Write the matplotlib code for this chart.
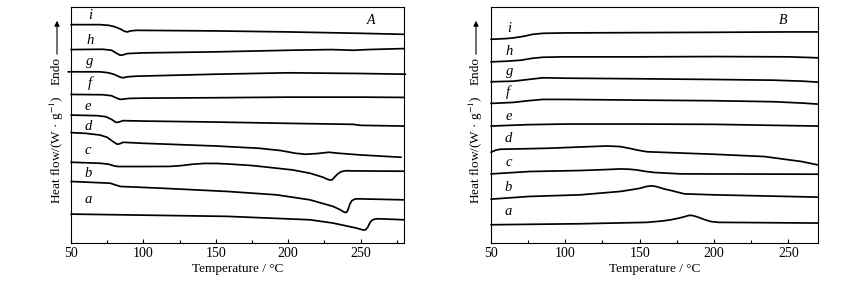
import numpy as np
import matplotlib
matplotlib.use('Agg')
import matplotlib.pyplot as plt
from matplotlib.ticker import MultipleLocator

plt.rcParams['font.family'] = ['Liberation Serif', 'DejaVu Serif']
plt.rcParams['mathtext.fontset'] = 'stix'

# ---- panel A : (temperature, heat flow offset) ----
A_i_t = [50, 70, 76, 80, 84, 87, 89, 91, 95, 150, 200, 250, 280]
A_i_y = [219, 219, 218.3, 217, 214.7, 212.3, 211.7, 212.7, 213.3, 212.7, 211.7, 210.3, 209.3]
A_h_t = [50, 72, 78, 81, 84, 86, 89, 100, 150, 200, 230, 245, 255, 280]
A_h_y = [194, 194.3, 193.3, 190.7, 188.3, 188.7, 190, 190.7, 191.7, 193.3, 194, 193.3, 194, 195]
A_g_t = [48, 70, 76, 80, 84, 86, 89, 95, 150, 200, 250, 281]
A_g_y = [171.7, 171.7, 170.7, 169, 166.3, 165.7, 166.7, 167.3, 169.3, 170.7, 170, 169.3]
A_f_t = [50, 72, 78, 82, 84, 86, 90, 100, 150, 200, 250, 280]
A_f_y = [149, 148.7, 147.7, 145, 144, 144.3, 145, 145.3, 145.7, 146.3, 146.3, 146]
A_e_t = [50, 68, 74, 78, 81, 83, 86, 100, 150, 200, 245, 250, 280]
A_e_y = [128.3, 127.7, 126.7, 124, 121, 121.3, 122.7, 122.3, 121.3, 120, 119, 118, 117.3]
A_d_t = [50, 60, 70, 75, 79, 82, 84, 86, 100, 150, 180, 195, 205, 212, 220, 228, 235, 250, 278]
A_d_y = [110.7, 110, 108.3, 106, 101.7, 99, 99.7, 101, 100, 97.3, 95, 92.7, 90, 89, 89.7, 91, 90, 88.3, 86]
A_c_t = [50, 70, 76, 80, 82.5, 100, 118, 126, 134, 142, 150, 158, 175, 203, 215, 224, 227, 229,
         230.5, 232, 234, 236.5, 240, 245, 280]
A_c_y = [81, 80, 79, 77.3, 76.7, 76.7, 76.8, 77.6, 79, 79.8, 79.8, 79.3, 77.7, 73.3, 70, 66, 64,
         63.2, 63.5, 66, 69, 71.5, 72.5, 72.3, 72]
A_b_t = [50, 77, 84, 112, 158, 192, 215, 231, 236, 238, 239.5, 240.5, 241.5, 242.6, 244, 246,
         248, 280]
A_b_y = [61.7, 60, 56.7, 55, 51.7, 48.3, 43.3, 36.7, 33.3, 31.5, 30.5, 31, 34, 39, 42.5, 44,
         44.3, 43.3]
A_a_t = [50, 158, 215, 231, 247, 250, 252, 253.5, 255, 256.5, 258, 260, 262, 280]
A_a_y = [29, 26.7, 23.3, 20, 15, 13.8, 13, 13.3, 16, 20.5, 23, 24, 24.3, 23.3]

# ---- panel B ----
B_i_t = [50, 60, 65, 72, 78, 85, 100, 150, 200, 250, 270]
B_i_y = [204.3, 205, 205.7, 207.3, 209.3, 210.3, 210.7, 211, 211.3, 211.7, 211.7]
B_h_t = [50, 60, 70, 78, 85, 100, 150, 200, 250, 265, 270]
B_h_y = [181.7, 182.3, 183.3, 185.3, 186.3, 186.7, 186.7, 187, 186.7, 186, 185.7]
B_g_t = [50, 65, 75, 85, 100, 150, 200, 240, 260, 270]
B_g_y = [161.7, 162.3, 164, 165.7, 165.3, 164.7, 164, 163.3, 162.3, 161.3]
B_f_t = [50, 65, 75, 85, 100, 150, 200, 240, 260, 270]
B_f_y = [140, 141, 142.7, 144, 144, 143.3, 142.7, 141.7, 140.3, 139.3]
B_e_t = [50, 75, 100, 150, 200, 240, 270]
B_e_y = [117.3, 118.7, 119.3, 119.3, 119, 118, 117.3]
B_d_t = [50, 53, 56, 88, 110, 128, 137, 143, 148, 155, 200, 234, 259, 270]
B_d_y = [91, 93, 94, 95, 96.3, 97.3, 96.7, 95, 93.3, 91.5, 89, 86.7, 81.7, 78.3]
B_c_t = [50, 76, 110, 130, 137, 143, 148, 154, 160, 178, 270]
B_c_y = [69.3, 71.7, 72.7, 73.8, 74.3, 74, 73.3, 71.8, 70.7, 69.3, 69]
B_b_t = [50, 76, 110, 137, 146, 150.6, 154, 157.4, 160, 163, 167, 171, 180, 200, 270]
B_b_y = [44, 46.7, 48.3, 51.7, 53.8, 55, 56.5, 57.3, 57, 55.8, 54, 52.7, 49.3, 48.3, 46]
B_a_t = [50, 110, 155, 166, 171, 176, 180, 183, 185, 187, 190, 194, 198, 203, 270]
B_a_y = [18.3, 19.3, 20.7, 22.2, 23.3, 24.8, 26.3, 27.6, 27.7, 27, 25.5, 23.3, 21.5, 20.7, 20]

names = ['a', 'b', 'c', 'd', 'e', 'f', 'g', 'h', 'i']
A_curves = [(A_a_t, A_a_y), (A_b_t, A_b_y), (A_c_t, A_c_y), (A_d_t, A_d_y), (A_e_t, A_e_y),
            (A_f_t, A_f_y), (A_g_t, A_g_y), (A_h_t, A_h_y), (A_i_t, A_i_y)]
B_curves = [(B_a_t, B_a_y), (B_b_t, B_b_y), (B_c_t, B_c_y), (B_d_t, B_d_y), (B_e_t, B_e_y),
            (B_f_t, B_f_y), (B_g_t, B_g_y), (B_h_t, B_h_y), (B_i_t, B_i_y)]

# label positions (temperature, offset)
A_lab_t = [61.8, 61.8, 61.8, 61.8, 61.8, 63, 63, 63, 63]
A_lab_y = [43.3, 69.3, 92.7, 116.7, 137.3, 160, 181.7, 203.3, 228.3]
B_lab_t = [61.7, 61.7, 61.7, 61.7, 61.7, 61.7, 62.5, 62.5, 62]
B_lab_y = [31.7, 56, 80.7, 105, 127.3, 151.7, 172.3, 191.7, 215]

W, H = 848, 281
fig = plt.figure(figsize=(W / 100, H / 100), dpi=100)
axA = fig.add_axes([71 / W, 1 - 243 / H, 333 / W, 236 / H])
axB = fig.add_axes([491 / W, 1 - 243 / H, 327 / W, 236 / H])


def draw(ax, curves, lab_t, lab_y, xmax, tag, tag_t):
    for k, (t, y) in enumerate(curves):
        ax.plot(t, y, color='black', lw=1.25, clip_on=False,
                solid_joinstyle='round', solid_capstyle='round')
        ax.text(lab_t[k], lab_y[k], names[k], style='italic', fontsize=10.5,
                ha='center', va='center')
    ax.text(tag_t, 223.3, tag, style='italic', fontsize=10, ha='center', va='center')
    ax.set_xlim(50, xmax)
    ax.set_ylim(0, 236.7)
    ax.set_yticks([])
    ax.xaxis.set_major_locator(MultipleLocator(50))
    ax.xaxis.set_minor_locator(MultipleLocator(25))
    ax.tick_params(axis='x', which='major', direction='in', length=3, width=0.8,
                   labelsize=10, pad=3)
    ax.tick_params(axis='x', which='minor', direction='in', length=2, width=0.8)
    for s in ax.spines.values():
        s.set_linewidth(0.8)
    ax.set_xlabel('Temperature / °C', fontsize=9.5, labelpad=2)


draw(axA, A_curves, A_lab_t, A_lab_y, 280, 'A', 256.9)
draw(axB, B_curves, B_lab_t, B_lab_y, 270, 'B', 246.4)

# y labels with the Endo arrow
for xpx in [57, 476]:
    fig.text(xpx / W, 1 - 150 / H, r'Heat flow/(W · g$^{-1}$)', rotation=90,
             fontsize=9.5, ha='center', va='center')
    fig.text(xpx / W, 1 - 71 / H, 'Endo', rotation=90, fontsize=9.5,
             ha='center', va='center')
    fig.add_artist(matplotlib.patches.FancyArrowPatch(
        (xpx / W, 1 - 57 / H), (xpx / W, 1 - 18 / H), transform=fig.transFigure,
        arrowstyle='-|>,head_length=3,head_width=1.5', color='black', lw=0.8))

fig.savefig('out.png', dpi=100)
